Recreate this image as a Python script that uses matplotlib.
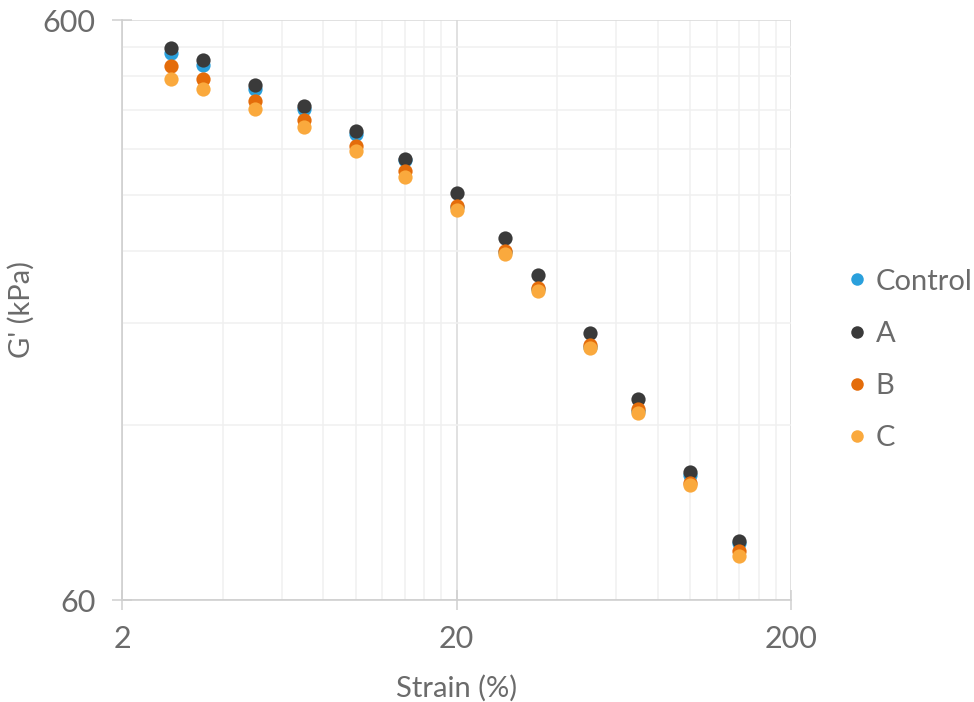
import matplotlib.pyplot as plt
from matplotlib.ticker import FixedLocator, NullFormatter, FixedFormatter
from matplotlib.lines import Line2D

plt.rcParams['font.family'] = ['Lato', 'DejaVu Sans']

strain = [2.8, 3.5, 5, 7, 10, 14, 20, 28, 35, 50, 70, 100, 140]
g_control = [527, 502, 457, 421, 382, 344, 286, 239, 206, 164, 127, 98.5, 75.1]
g_a = [536, 512, 463, 427, 386, 346, 302, 253, 218, 173, 133, 99.7, 75.9]
g_b = [499, 475, 435, 403, 364, 329, 287, 240, 207, 165, 128, 95.6, 72.9]
g_c = [475, 456, 421, 392, 357, 322, 282, 237, 205, 163, 126, 94.7, 71.4]

series = [("Control", g_control, "#2aa0dc"),
          ("A", g_a, "#3a3a3a"),
          ("B", g_b, "#e46c0a"),
          ("C", g_c, "#faa93d")]

text_col = "#6b6b6b"

fig = plt.figure(figsize=(9.74, 7.02), dpi=100)
ax = fig.add_axes([122 / 974, 1 - 600 / 702, 669 / 974, 580 / 702])

for name, vals, col in series:
    ax.scatter(strain, vals, s=105, color=col, zorder=3, linewidths=0)

ax.set_xscale("log")
ax.set_yscale("log")
ax.set_xlim(2, 200)
ax.set_ylim(60, 600)

ax.xaxis.set_major_locator(FixedLocator([2, 20, 200]))
ax.xaxis.set_major_formatter(FixedFormatter(["2", "20", "200"]))
ax.xaxis.set_minor_locator(FixedLocator([4, 6, 8, 10, 12, 14, 16, 18,
                                         40, 60, 80, 100, 120, 140, 160, 180]))
ax.xaxis.set_minor_formatter(NullFormatter())
ax.yaxis.set_major_locator(FixedLocator([60, 600]))
ax.yaxis.set_major_formatter(FixedFormatter(["60", "600"]))
ax.yaxis.set_minor_locator(FixedLocator(list(range(120, 600, 60))))
ax.yaxis.set_minor_formatter(NullFormatter())

ax.grid(which="major", color="#d9d9d9", linewidth=1.1, zorder=0)
ax.grid(which="minor", color="#f0f0f0", linewidth=1.1, zorder=0)
ax.set_axisbelow(True)

for side in ["top", "right"]:
    ax.spines[side].set_visible(False)
for side in ["left", "bottom"]:
    ax.spines[side].set_color("#cfcfcf")
    ax.spines[side].set_linewidth(1.2)

ax.tick_params(which="major", direction="inout", length=14, width=1.1,
               color="#cfcfcf", labelsize=22, labelcolor=text_col)
ax.tick_params(which="minor", length=0)
ax.tick_params(axis="x", which="major", pad=11)
ax.tick_params(axis="y", which="major", pad=12)

ax.set_xlabel("Strain (%)", fontsize=21, color=text_col, labelpad=16)
ax.set_ylabel("G' (kPa)", fontsize=21, color=text_col, labelpad=6)

handles = [Line2D([], [], marker="o", linestyle="", markersize=9,
                  markerfacecolor=col, markeredgewidth=0, label=name)
           for name, vals, col in series]
leg = fig.legend(handles=handles, loc="center left",
                 bbox_to_anchor=(816 / 974, 1 - 360 / 702),
                 frameon=False, fontsize=21, labelspacing=0.9,
                 handletextpad=0.15, handlelength=1.0)
for t in leg.get_texts():
    t.set_color(text_col)

fig.savefig("out.png", dpi=100)
